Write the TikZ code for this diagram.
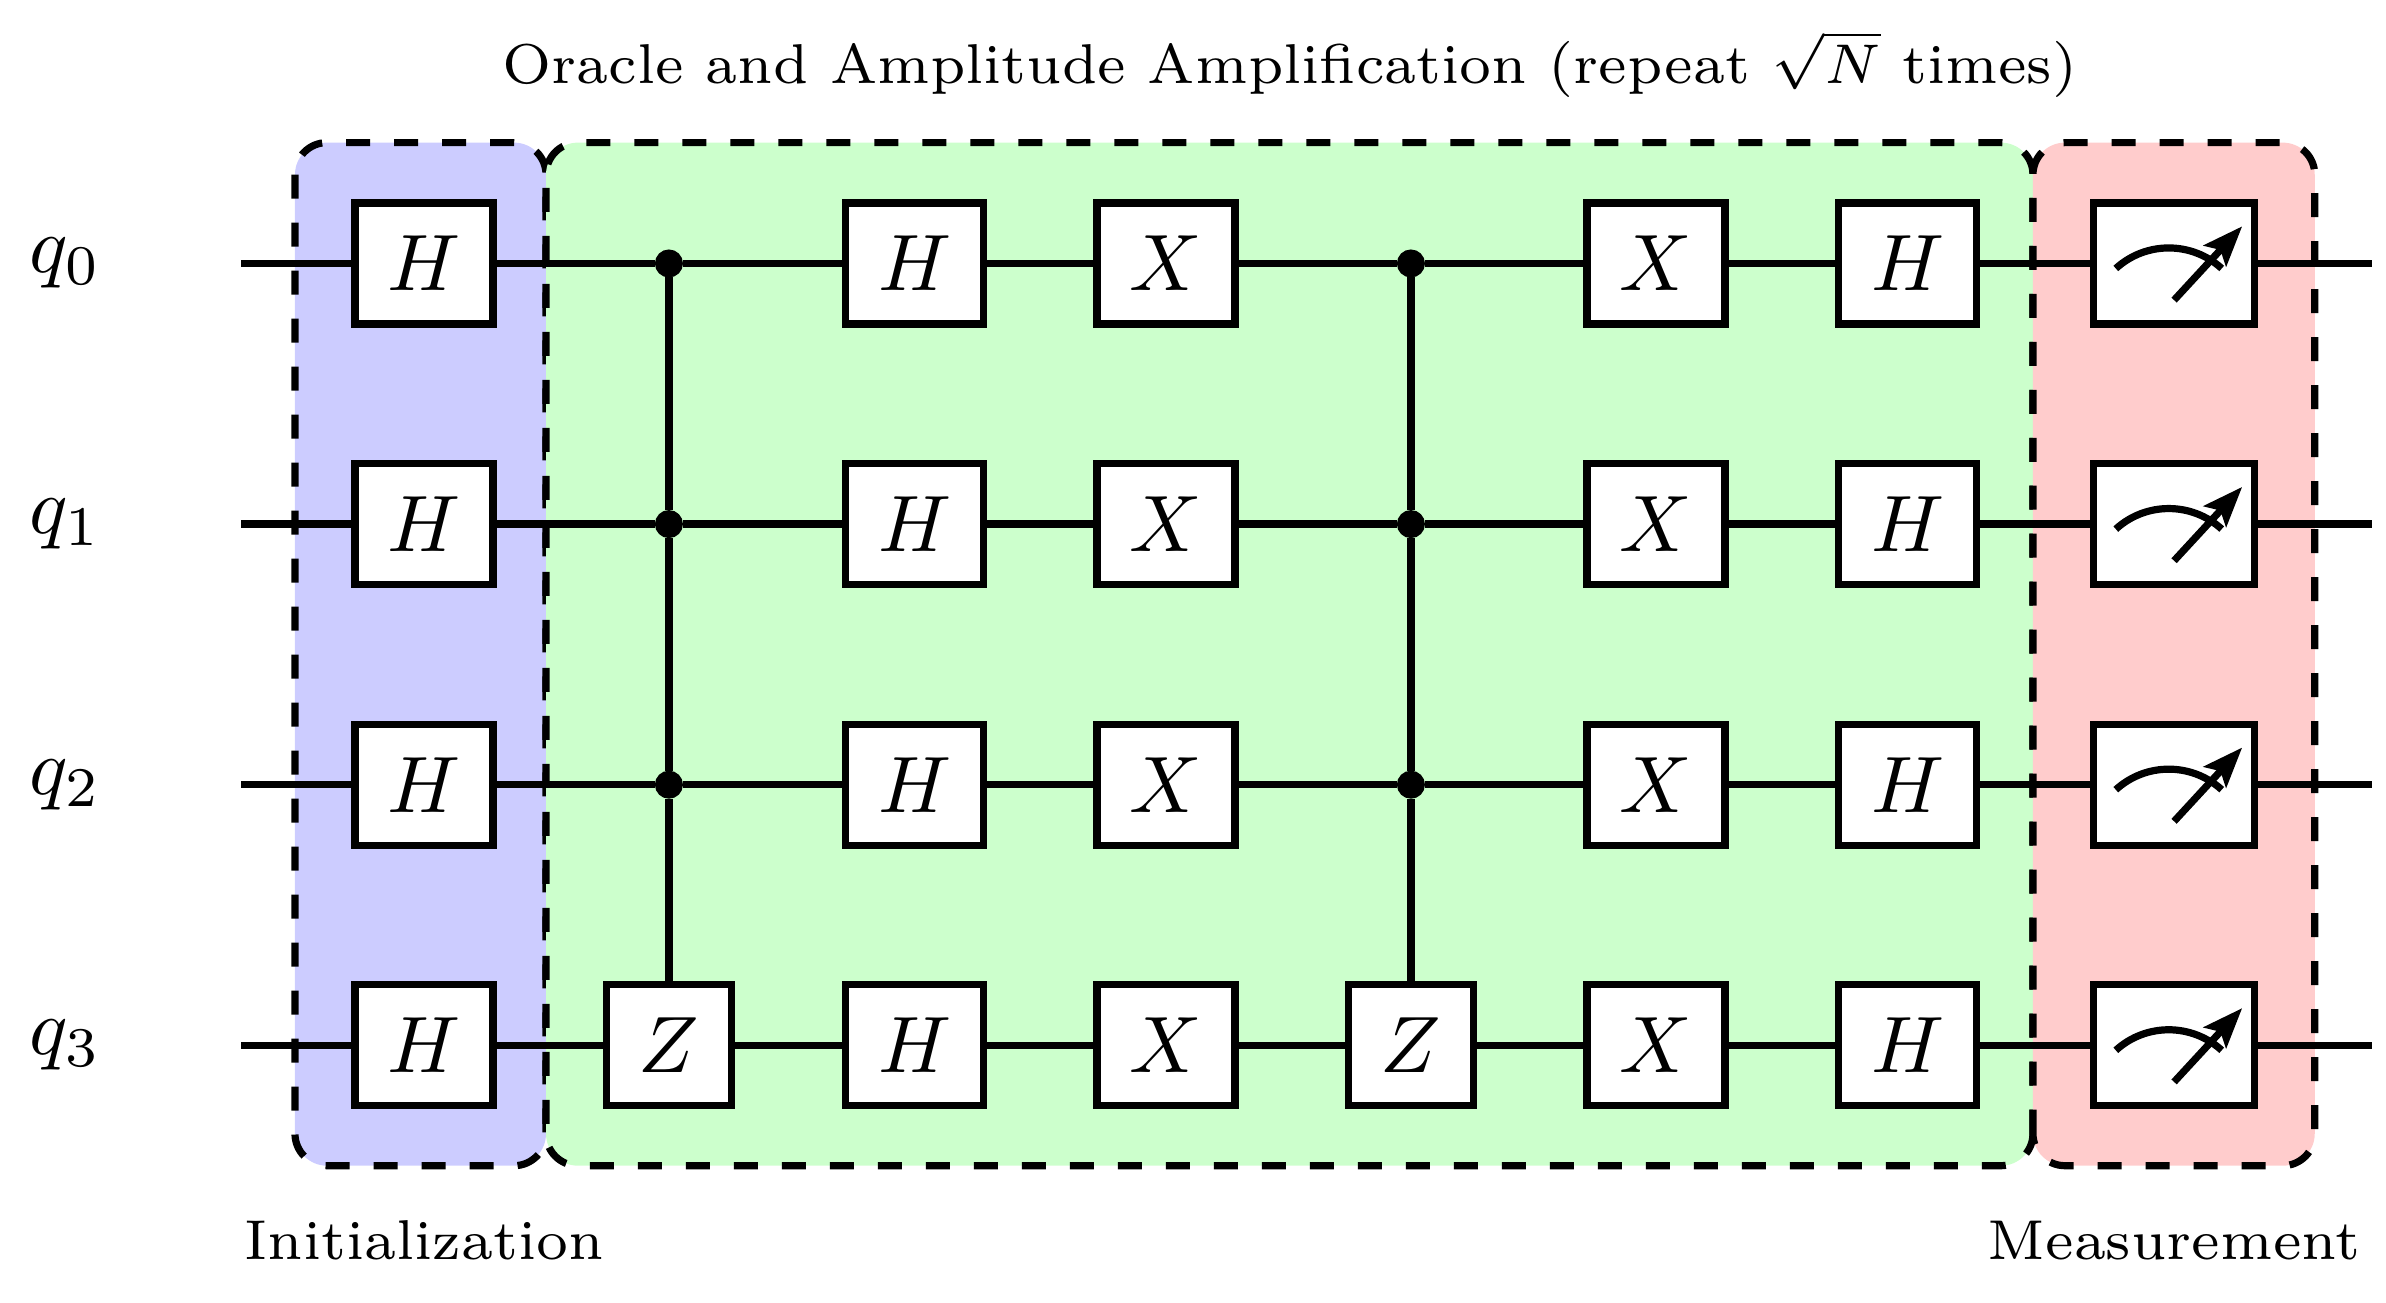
\documentclass[tikz,border=0pt]{standalone}
\usepackage{amsmath}
\usepackage{xcolor}
\usetikzlibrary{arrows.meta, positioning}

\tikzset{
    gate/.style={draw, fill=white, line width=.9pt, minimum width=.606cm, minimum height=.532cm, inner sep=0pt},
    zgate/.style={gate, minimum width=.549cm},
    meter/.style={gate, minimum width=.707cm},
    ctrl/.style={draw, circle, fill=black, inner sep=0pt, minimum size=3.1pt},
    wire/.style={line width=.9pt},
    zone/.style={dashed, line width=.9pt, rounded corners},
    caption/.style={font=\fontsize{7.02}{8}\selectfont, anchor=base, inner sep=0pt},
    needle/.style={line width=.9pt, -{Stealth[length=5pt, width=3.8pt, inset=1pt]}}
}

\begin{document}
\begin{tikzpicture}
    \useasboundingbox (0, 0) rectangle (10.483, 5.7206);

    % draw the three zones first
    \draw[zone, fill=blue!20] (1.296, 5.094) rectangle (2.399, 0.599);
    \draw[zone, fill=green!20] (8.932, 0.599) rectangle (2.399, 5.094);
    \draw[zone, fill=red!20] (8.932, 0.599) rectangle (10.170, 5.094);

    \node (q0) at (0.288, 4.563) {$q_0$};
    \node (q1) at (0.288, 3.418) {$q_1$};
    \node (q2) at (0.288, 2.273) {$q_2$};
    \node (q3) at (0.288, 1.128) {$q_3$};

    \coordinate (in0) at (1.059, 4.563);
    \coordinate (in1) at (1.059, 3.418);
    \coordinate (in2) at (1.059, 2.273);
    \coordinate (in3) at (1.059, 1.128);
    \coordinate (out0) at (10.422, 4.563);
    \coordinate (out1) at (10.422, 3.418);
    \coordinate (out2) at (10.422, 2.273);
    \coordinate (out3) at (10.422, 1.128);

    \node[gate] (ha0) at (1.863, 4.563) {$H$};
    \node[gate] (ha1) at (1.863, 3.418) {$H$};
    \node[gate] (ha2) at (1.863, 2.273) {$H$};
    \node[gate] (ha3) at (1.863, 1.128) {$H$};

    \node[ctrl] (ca0) at (2.939, 4.563) {};
    \node[ctrl] (ca1) at (2.939, 3.418) {};
    \node[ctrl] (ca2) at (2.939, 2.273) {};
    \node[zgate] (za) at (2.939, 1.128) {$Z$};

    \node[gate] (hb0) at (4.018, 4.563) {$H$};
    \node[gate] (hb1) at (4.018, 3.418) {$H$};
    \node[gate] (hb2) at (4.018, 2.273) {$H$};
    \node[gate] (hb3) at (4.018, 1.128) {$H$};

    \node[gate] (xa0) at (5.123, 4.563) {$X$};
    \node[gate] (xa1) at (5.123, 3.418) {$X$};
    \node[gate] (xa2) at (5.123, 2.273) {$X$};
    \node[gate] (xa3) at (5.123, 1.128) {$X$};

    \node[ctrl] (cb0) at (6.199, 4.563) {};
    \node[ctrl] (cb1) at (6.199, 3.418) {};
    \node[ctrl] (cb2) at (6.199, 2.273) {};
    \node[zgate] (zb) at (6.199, 1.128) {$Z$};

    \node[gate] (xb0) at (7.276, 4.563) {$X$};
    \node[gate] (xb1) at (7.276, 3.418) {$X$};
    \node[gate] (xb2) at (7.276, 2.273) {$X$};
    \node[gate] (xb3) at (7.276, 1.128) {$X$};

    \node[gate] (hc0) at (8.381, 4.563) {$H$};
    \node[gate] (hc1) at (8.381, 3.418) {$H$};
    \node[gate] (hc2) at (8.381, 2.273) {$H$};
    \node[gate] (hc3) at (8.381, 1.128) {$H$};

    \node[meter] (m0) at (9.552, 4.563) {};
    \node[meter] (m1) at (9.552, 3.418) {};
    \node[meter] (m2) at (9.552, 2.273) {};
    \node[meter] (m3) at (9.552, 1.128) {};

    \draw[wire] (in0) -- (ha0) -- (ca0) -- (hb0) -- (xa0) -- (cb0) -- (xb0) -- (hc0) -- (m0) -- (out0);
    \draw[wire] (in1) -- (ha1) -- (ca1) -- (hb1) -- (xa1) -- (cb1) -- (xb1) -- (hc1) -- (m1) -- (out1);
    \draw[wire] (in2) -- (ha2) -- (ca2) -- (hb2) -- (xa2) -- (cb2) -- (xb2) -- (hc2) -- (m2) -- (out2);
    \draw[wire] (in3) -- (ha3) -- (za) -- (hb3) -- (xa3) -- (zb) -- (xb3) -- (hc3) -- (m3) -- (out3);

    % draw the controlled lines
    \draw[wire] (ca0) -- (ca1) -- (ca2) -- (za);
    \draw[wire] (cb0) -- (cb1) -- (cb2) -- (zb);

    % draw the meter faces
    \draw[wire] ([shift={(-.256, -.022)}]m0.center) arc (132.4:47.6:.345);
    \draw[wire] ([shift={(-.256, -.022)}]m1.center) arc (132.4:47.6:.345);
    \draw[wire] ([shift={(-.256, -.022)}]m2.center) arc (132.4:47.6:.345);
    \draw[wire] ([shift={(-.256, -.022)}]m3.center) arc (132.4:47.6:.345);
    \draw[needle] ([yshift=-.161cm]m0.center) -- ([shift={(.299, .163)}]m0.center);
    \draw[needle] ([yshift=-.161cm]m1.center) -- ([shift={(.299, .163)}]m1.center);
    \draw[needle] ([yshift=-.161cm]m2.center) -- ([shift={(.299, .163)}]m2.center);
    \draw[needle] ([yshift=-.161cm]m3.center) -- ([shift={(.299, .163)}]m3.center);

    \node[caption] (oracle) at (5.668, 5.352) {Oracle and Amplitude Amplification (repeat $\sqrt{N}$ times)};
    \node[caption] (init) at (1.863, 0.189) {Initialization};
    \node[caption] (measure) at (9.552, 0.189) {Measurement};
\end{tikzpicture}
\end{document}
